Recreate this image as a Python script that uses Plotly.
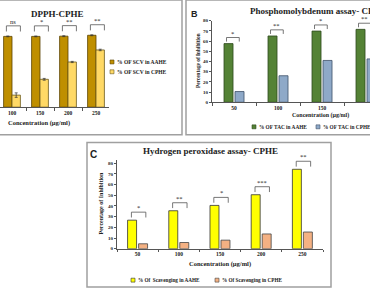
import plotly.graph_objects as go

W, H = 370, 292
def X(px): return px / W
def Y(py): return 1 - py / H

SERIF = "Liberation Serif"
INK = "#222222"

# ---------------- data ----------------
a_conc = ["100", "150", "200", "250"]
a_aahe = [94.0, 94.0, 94.3, 95.5]
a_aahe_err = [0.5, 0.5, 0.6, 0.6]
a_cphe = [16.0, 37.0, 60.0, 76.0]
a_cphe_err = [3.0, 1.2, 0.8, 1.0]
a_sig = ["ns", "*", "**", "**"]

b_conc = ["50", "100", "150", "200"]
b_aahe = [57.5, 65.0, 69.8, 71.5]
b_cphe = [10.5, 26.0, 41.0, 42.5]
b_sig = ["*", "**", "*", "**"]

c_conc = ["50", "100", "150", "200", "250"]
c_aahe = [26.7, 35.5, 40.5, 50.5, 74.3]
c_cphe = [4.6, 5.8, 8.0, 13.8, 15.6]
c_sig = ["*", "**", "*", "***", "**"]

a_names = ["% OF SCV in AAHE", "% OF SCV in CPHE"]
b_names = ["% OF TAC in AAHE", "% OF TAC in CPHE"]
c_names = ["% Of  Scavenging in AAHE", "% Of Scavenging in CPHE"]

A_COL = ["#BF8F00", "#FFD966"]
B_COL = ["#548235", "#8EA9C8"]
C_COL = ["#FFFF00", "#F4B183"]

fig = go.Figure()

def add_bar(xs, ys, ax, ay, offset, width, color, line, err=None):
    fig.add_trace(go.Bar(
        x=list(range(len(xs))), y=ys, xaxis=ax, yaxis=ay,
        offset=offset, width=width, showlegend=False,
        marker=dict(color=color, line=dict(color=line, width=0.8)),
        error_y=(dict(type="data", array=err, color="#333", thickness=0.7, width=1.5)
                 if err is not None else None),
    ))

# Panel A
add_bar(a_conc, a_aahe, "x", "y", -0.30, 0.30, A_COL[0], "#5a4300", a_aahe_err)
add_bar(a_conc, a_cphe, "x", "y", 0.0, 0.30, A_COL[1], "#6b5a20", a_cphe_err)
# Panel B
add_bar(b_conc, b_aahe, "x2", "y2", -0.227, 0.205, B_COL[0], "#2f4a1e")
add_bar(b_conc, b_cphe, "x2", "y2", 0.023, 0.205, B_COL[1], "#3f5068")
# Panel C
add_bar(c_conc, c_aahe, "x3", "y3", -0.243, 0.218, C_COL[0], "#333333")
add_bar(c_conc, c_cphe, "x3", "y3", 0.024, 0.218, C_COL[1], "#444444")

shapes = []
annotations = []

def brackets(vals, sig, xr, yr, left, right, top_add, leg_add, fs):
    for i, (v, s) in enumerate(zip(vals, sig)):
        top = v + top_add
        leg = v + leg_add
        for (x0, y0, x1, y1) in [(i + left, leg, i + left, top), (i + left, top, i + right, top),
                                 (i + right, top, i + right, leg)]:
            shapes.append(dict(type="line", xref=xr, yref=yr, x0=x0, y0=y0, x1=x1, y1=y1,
                               line=dict(color="#555", width=0.8)))
        annotations.append(dict(x=i + (left + right) / 2, y=top, xref=xr, yref=yr, text=s,
                                showarrow=False, yanchor="bottom", yshift=-1,
                                font=dict(family=SERIF, size=fs, color=INK)))

brackets(a_aahe, a_sig, "x", "y", -0.2, 0.3, 14.0, 6.5, 6.5)
brackets(b_aahe, b_sig, "x2", "y2", -0.17, 0.12, 6.0, 2.0, 6.5)
brackets(c_aahe, c_sig, "x3", "y3", -0.15, 0.2, 7.5, 2.5, 6.5)

# panel borders
for (x0, y0, x1, y1) in [(-2, -2, 182, 135), (186, -2, 372, 135), (87, 143, 331, 290)]:
    shapes.append(dict(type="rect", xref="paper", yref="paper", x0=X(x0), x1=X(x1),
                       y0=Y(y1), y1=Y(y0), line=dict(color="#A0A0A0", width=1.5)))

def text(px, py, s, size, anchor="center", bold=True, family=SERIF, angle=0):
    annotations.append(dict(x=X(px), y=Y(py), xref="paper", yref="paper", text=("<b>%s</b>" % s) if bold else s,
                            showarrow=False, xanchor=anchor, yanchor="middle", textangle=angle,
                            font=dict(family=family, size=size, color=INK)))

# titles / labels
text(57, 12, "DPPH-CPHE", 9)
text(248, 9, "Phosphomolybdenum assay- CPHE", 9, anchor="left")
text(210, 152, "Hydrogen peroxidase assay- CPHE", 9)
text(195, 12, "B", 9, family="Liberation Sans")
text(93, 155, "C", 10, family="Liberation Sans")

text(39, 123, "Concentration (µg/ml)", 6.5)
text(320, 115, "Concentration (µg/ml)", 6)
text(220, 267, "Concentration (µg/ml)", 6.5)
text(198, 60, "Percentage of Inhibition", 5.3, angle=-90)
text(101, 205, "Percentage of Inhibition", 6, angle=-90)

# legends
def legend_item(px, py, color, line, label, size):
    shapes.append(dict(type="rect", xref="paper", yref="paper", x0=X(px), x1=X(px + 4),
                       y0=Y(py + 2), y1=Y(py - 2), fillcolor=color, line=dict(color=line, width=0.6)))
    text(px + 5, py, label, size, anchor="left")

legend_item(110, 61, A_COL[0], "#5a4300", a_names[0], 5.5)
legend_item(110, 71, A_COL[1], "#6b5a20", a_names[1], 5.5)
legend_item(252, 127, B_COL[0], "#2f4a1e", b_names[0], 5.3)
legend_item(316, 127, B_COL[1], "#3f5068", b_names[1], 5.3)
legend_item(131, 283, C_COL[0], "#333", c_names[0], 5.2)
legend_item(215, 283, C_COL[1], "#444", c_names[1], 5.2)

tick_font = dict(family=SERIF, size=5.5, color=INK)

def xaxis(dom, rng, labels, nb):
    return dict(domain=dom, range=rng, tickmode="array", tickvals=list(range(len(labels))),
                ticktext=["<b>%s</b>" % l for l in labels], ticks="", showline=True,
                linecolor="#555", linewidth=0.8, showgrid=False, zeroline=False,
                tickfont=tick_font, fixedrange=True,
                minor=dict(tickmode="array", tickvals=[i + 0.5 for i in range(-1, nb)],
                           ticks="outside", ticklen=2.5, tickcolor="#555", showgrid=False))

def yaxis(dom, rng, anchor, show=True):
    d = dict(domain=dom, range=rng, anchor=anchor, showgrid=False, zeroline=False, fixedrange=True)
    if show:
        d.update(tickmode="array", tickvals=list(range(0, 81, 10)),
                 ticktext=["<b>%d</b>" % v for v in range(0, 81, 10)],
                 ticks="outside", ticklen=2, tickcolor="#555", showline=True,
                 linecolor="#555", linewidth=0.8, tickfont=dict(family=SERIF, size=5, color=INK))
    else:
        d.update(showline=False, showticklabels=False, ticks="")
    return d

fig.update_layout(
    width=W, height=H, margin=dict(l=0, r=0, t=0, b=0),
    paper_bgcolor="white", plot_bgcolor="rgba(0,0,0,0)",
    barmode="overlay", showlegend=False,
    xaxis=dict(xaxis([0, X(109)], [-12 / 28, -12 / 28 + 109 / 28], a_conc, 4), anchor="y"),
    yaxis=yaxis([Y(107), Y(13.5)], [0, 93.5 / 0.766], "x", show=False),
    xaxis2=dict(xaxis([X(212), 1], [-0.5, -0.5 + 158 / 44], b_conc, 4), anchor="y2"),
    yaxis2=yaxis([Y(102), Y(19)], [0, 80], "x2"),
    xaxis3=dict(xaxis([X(117), X(323)], [-0.5, 4.5], c_conc, 5), anchor="y3"),
    yaxis3=yaxis([Y(251), Y(251 - 83 * 1.0875)], [0, 83], "x3"),
    shapes=shapes, annotations=annotations,
)

fig.write_html("out.html")
